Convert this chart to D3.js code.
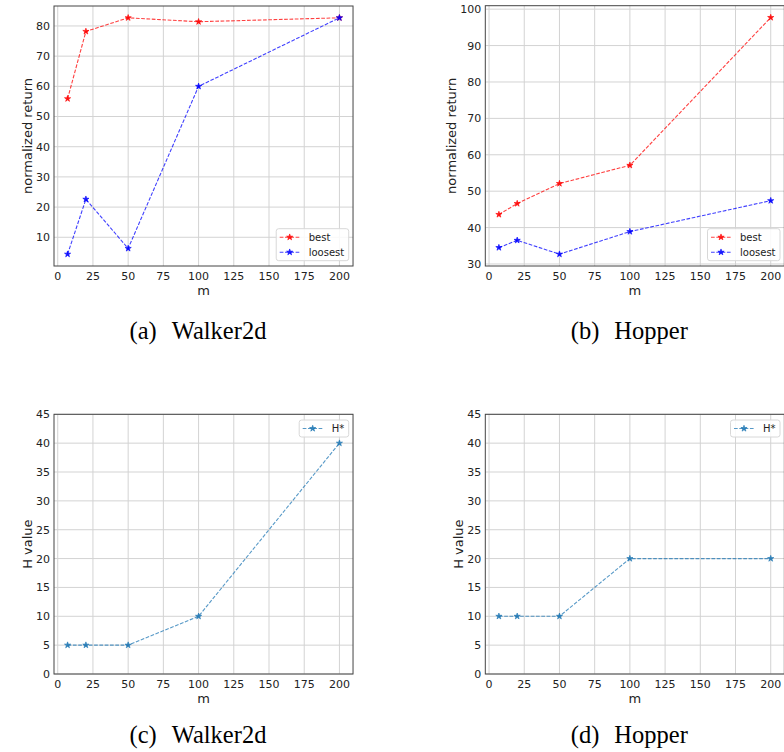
<!DOCTYPE html>
<html>
<head>
<meta charset="utf-8">
<script src="https://cdn.jsdelivr.net/npm/d3@7"></script>
<style>
  body { margin: 0; background: #fff; }
  svg { display: block; }
  .tick-label { font-family: "DejaVu Sans", sans-serif; font-size: 11px; fill: #222; }
  .axis-label { font-family: "DejaVu Sans", sans-serif; font-size: 13px; fill: #222; }
  .legend-text { font-family: "DejaVu Sans", sans-serif; font-size: 10px; fill: #222; }
  .caption { font-family: "Liberation Serif", "Times New Roman", serif; font-size: 24.5px; fill: #000; }
</style>
</head>
<body>
<div id="figure"></div>
<script>
// data
const mValues = [7, 20, 50, 100, 200];
const walkerBest = [55.9, 78.2, 82.7, 81.4, 82.7];
const walkerLoosest = [4.4, 22.6, 6.3, 60.0, 82.7];
const hopperBest = [43.6, 46.6, 52.1, 57.1, 97.7];
const hopperLoosest = [34.5, 36.5, 32.7, 38.9, 47.4];
const walkerH = [5, 5, 5, 10, 40];
const hopperH = [10, 10, 10, 20, 20];
const xTickValues = [0, 25, 50, 75, 100, 125, 150, 175, 200];
const hTickValues = [0, 5, 10, 15, 20, 25, 30, 35, 40, 45];

const __CONFIG__ = {
  width: 784,
  height: 752,
  grid_color: "#d3d3d3",
  frame_color: "#444",
  dash: "3.7,1.6"
};

const panels = [
  { tag: "(a)", name: "Walker2d", left: 54, top: 6, bottom: 266, ylabel: "normalized return",
    ylim: null, legend: "lower right",
    series: [{ label: "best", values: walkerBest, color: "#ff0000" },
             { label: "loosest", values: walkerLoosest, color: "#0000ff" }] },
  { tag: "(b)", name: "Hopper", left: 485.3, top: 5.7, bottom: 266, ylabel: "normalized return",
    ylim: null, legend: "lower right",
    series: [{ label: "best", values: hopperBest, color: "#ff0000" },
             { label: "loosest", values: hopperLoosest, color: "#0000ff" }] },
  { tag: "(c)", name: "Walker2d", left: 54, top: 414.3, bottom: 674, ylabel: "H value",
    ylim: [0, 45], ticks: hTickValues, legend: "upper right",
    series: [{ label: "H*", values: walkerH, color: "#1f77b4" }] },
  { tag: "(d)", name: "Hopper", left: 485.3, top: 414.3, bottom: 674, ylabel: "H value",
    ylim: [0, 45], ticks: hTickValues, legend: "upper right",
    series: [{ label: "H*", values: hopperH, color: "#1f77b4" }] }
];

const svg = d3.select("#figure").append("svg")
  .attr("width", __CONFIG__.width)
  .attr("height", __CONFIG__.height);

// matplotlib style 5% margins
function padded(extent) {
  const span = extent[1] - extent[0];
  return [extent[0] - span * 0.05, extent[1] + span * 0.05];
}

function draw_panel(p) {
  const xdom = padded(d3.extent(mValues));
  const plotW = (xdom[1] - xdom[0]) * 1.4085;
  const right = p.left + plotW;
  const x = d3.scaleLinear().domain(xdom).range([p.left, right]);
  const allY = p.series.flatMap(s => s.values);
  const ydom = p.ylim || padded(d3.extent(allY));
  const y = d3.scaleLinear().domain(ydom).range([p.bottom, p.top]);
  const yTicks = p.ticks || y.ticks(8).filter(t => t >= ydom[0] && t <= ydom[1]);

  const g = svg.append("g");

  // grid
  g.selectAll("line.vgrid").data(xTickValues).join("line")
    .attr("x1", d => x(d)).attr("x2", d => x(d))
    .attr("y1", p.top).attr("y2", p.bottom)
    .attr("stroke", __CONFIG__.grid_color).attr("stroke-width", 1);
  g.selectAll("line.hgrid").data(yTicks).join("line")
    .attr("x1", p.left).attr("x2", right)
    .attr("y1", d => y(d)).attr("y2", d => y(d))
    .attr("stroke", __CONFIG__.grid_color).attr("stroke-width", 1);

  // tick labels
  g.selectAll("text.xt").data(xTickValues).join("text")
    .attr("class", "tick-label")
    .attr("x", d => x(d)).attr("y", p.bottom + 14)
    .attr("text-anchor", "middle")
    .text(d => d);
  const yt = g.selectAll("text.yt").data(yTicks).join("text")
    .attr("class", "tick-label")
    .attr("x", p.left - 4).attr("y", d => y(d))
    .attr("dy", "0.36em")
    .attr("text-anchor", "end")
    .text(d => d);
  let maxW = 0;
  yt.each(function() { maxW = Math.max(maxW, this.getComputedTextLength()); });

  // axis labels
  g.append("text").attr("class", "axis-label")
    .attr("x", (p.left + right) / 2).attr("y", p.bottom + 28.5)
    .attr("text-anchor", "middle").text("m");
  const lx = p.left - 6 - maxW - 7;
  g.append("text").attr("class", "axis-label")
    .attr("transform", `translate(${lx},${(p.top + p.bottom) / 2}) rotate(-90)`)
    .attr("text-anchor", "middle").attr("dy", "0.36em")
    .text(p.ylabel);

  // lines + markers
  const line = d3.line().x((d, i) => x(mValues[i])).y(d => y(d));
  const star = d3.symbol().type(d3.symbolStar).size(12);
  for (const s of p.series) {
    g.append("path")
      .attr("d", line(s.values))
      .attr("fill", "none")
      .attr("stroke", s.color)
      .attr("stroke-opacity", 0.75)
      .attr("stroke-width", 1.1)
      .attr("stroke-dasharray", __CONFIG__.dash);
    g.selectAll(null).data(s.values).join("path")
      .attr("transform", (d, i) => `translate(${x(mValues[i])},${y(d)})`)
      .attr("d", star)
      .attr("fill", s.color)
      .attr("stroke", s.color).attr("stroke-width", 0.6)
      .attr("fill-opacity", 0.9);
  }

  // frame
  g.append("rect")
    .attr("x", p.left).attr("y", p.top)
    .attr("width", right - p.left).attr("height", p.bottom - p.top)
    .attr("fill", "none")
    .attr("stroke", __CONFIG__.frame_color).attr("stroke-width", 1);

  // legend
  const leg = g.append("g");
  const rowH = 15;
  const texts = leg.selectAll("text").data(p.series).join("text")
    .attr("class", "legend-text")
    .text(d => d.label);
  let tw = 0;
  texts.each(function() { tw = Math.max(tw, this.getComputedTextLength()); });
  const boxW = 3.5 + 20 + 9 + tw + 4.5;
  const boxH = p.series.length * rowH + 2;
  const bx = right - 4.3 - boxW;
  const by = p.legend === "lower right" ? p.bottom - 5.3 - boxH : p.top + 5.7;
  leg.insert("rect", "text")
    .attr("x", bx).attr("y", by).attr("width", boxW).attr("height", boxH)
    .attr("rx", 2.5)
    .attr("fill", "#fff").attr("fill-opacity", 0.85)
    .attr("stroke", "#d8d8d8").attr("stroke-width", 1);
  texts.attr("x", bx + 32.5)
    .attr("y", (d, i) => by + 8.5 + i * rowH)
    .attr("dy", "0.36em");
  p.series.forEach((s, i) => {
    const cy = by + 8.5 + i * rowH;
    leg.append("line")
      .attr("x1", bx + 3.5).attr("x2", bx + 23.5)
      .attr("y1", cy).attr("y2", cy)
      .attr("stroke", s.color).attr("stroke-opacity", 0.75)
      .attr("stroke-width", 1.1).attr("stroke-dasharray", __CONFIG__.dash);
    leg.append("path")
      .attr("transform", `translate(${bx + 13.5},${cy})`)
      .attr("d", star)
      .attr("fill", s.color)
      .attr("stroke", s.color).attr("stroke-width", 0.6)
      .attr("fill-opacity", 0.9);
  });

  // caption below the panel
  const cap = svg.append("text").attr("class", "caption")
    .attr("y", p.top < 100 ? 339 : 743);
  cap.append("tspan").text(p.tag);
  cap.append("tspan").attr("dx", 15).text(p.name);
  const cw = cap.node().getComputedTextLength() + 15;
  cap.attr("x", (p.left + right) / 2 - 5.5 - cw / 2);
}

panels.forEach(draw_panel);
</script>
</body>
</html>
